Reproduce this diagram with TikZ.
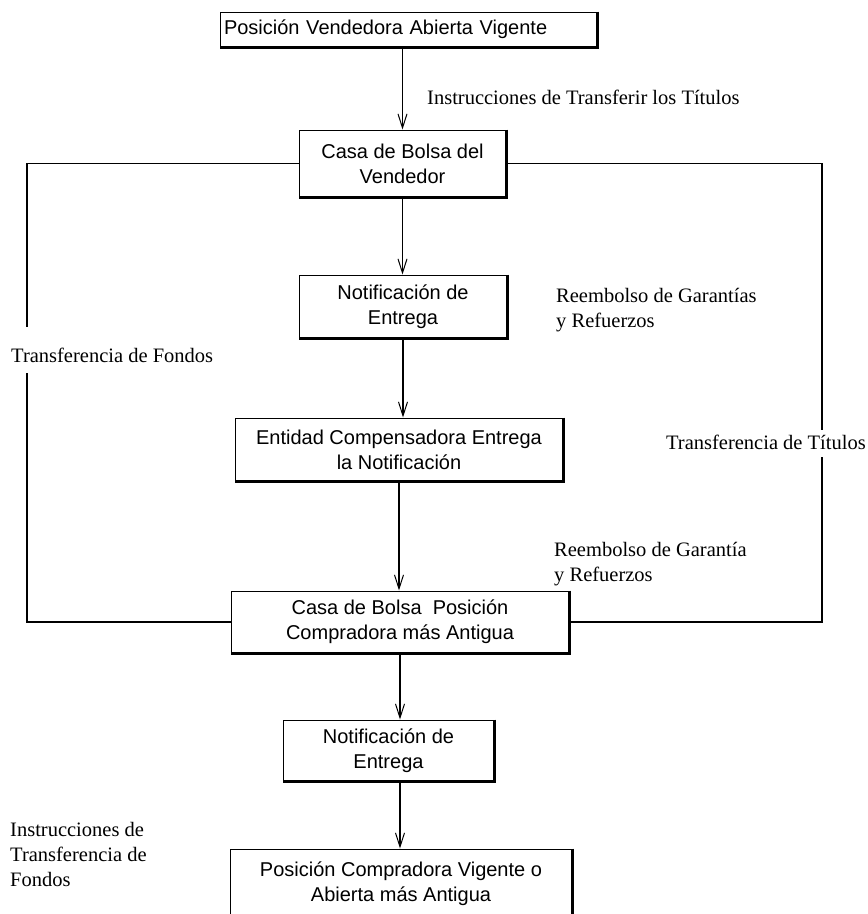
\documentclass[tikz,border=0pt]{standalone}
\usepackage{fontspec}
\setmainfont{Liberation Serif}
\setsansfont{Liberation Sans}
\usetikzlibrary{arrows.meta}
\tikzset{
  caja/.style={draw, line width=1pt, inner sep=0pt, align=center, font=\sffamily\fontsize{20}{25}\selectfont},
  etiq/.style={inner sep=0pt, align=left, font=\fontsize{20.5}{25}\selectfont},
  flecha/.style={line width=1.2pt, -{Straight Barb[length=14pt,width=9pt,line width=1pt]}},
  linea/.style={line width=1.2pt},
}
\begin{document}
\begin{tikzpicture}[x=1pt,y=-1pt]
        \useasboundingbox (0,0) rectangle (868,914);
        \clip (0,0) rectangle (868,914);

        % cajas
        \node[caja, minimum width=377pt, minimum height=35pt, text width=369pt, align=left] (vend) at (408.5,29.5) {Posición Vendedora Abierta Vigente};
        \node[caja, minimum width=207pt, minimum height=67pt] (casa) at (402.5,163.5) {Casa de Bolsa del\\Vendedor};
        \node[caja, minimum width=208pt, minimum height=63pt] (notif1) at (403,306.5) {Notificación de\\Entrega};
        \node[caja, minimum width=328pt, minimum height=63pt] (ent) at (399,449.5) {Entidad Compensadora Entrega\\la Notificación};
        \node[caja, minimum width=338pt, minimum height=62pt] (casacomp) at (400,622) {Casa de Bolsa\ \ Posición\\Compradora más Antigua};
        \node[caja, minimum width=211pt, minimum height=61pt] (notif2) at (388.5,750.5) {Notificación de\\Entrega};
        \node[caja, minimum width=342pt, minimum height=70pt] (compvig) at (401,884) {Posición Compradora Vigente o\\Abierta más Antigua};

        \foreach \n in {vend,casa,notif1,ent,casacomp,notif2,compvig}
            \draw[line width=2.5pt] (\n.north east) -- (\n.south east) -- (\n.south west);

        % flechas
        \draw[flecha] (vend.south -| casa.north) -- (casa.north);
        \draw[flecha] (casa.south) -- (casa.south |- notif1.north);
        \draw[flecha] (notif1.south) -- (notif1.south |- ent.north);
        \draw[flecha] (ent.south) -- (ent.south |- casacomp.north);
        \draw[flecha] (casacomp.south) -- (casacomp.south |- notif2.north);
        \draw[flecha] (casacomp.south |- notif2.south) -- (casacomp.south |- compvig.north);

        % lineas laterales
        \coordinate (fa) at (27,327);
        \coordinate (fb) at (27,373);
        \coordinate (ta) at (822,430);
        \coordinate (tb) at (822,457);
        \draw[linea] (casa.west) -| (fa);
        \draw[linea] (fb) |- (casacomp.west);
        \draw[linea] (casa.east) -| (ta);
        \draw[linea] (tb) |- (casacomp.east);

        % etiquetas
        \node[etiq, anchor=west] (instr) at (427,97) {Instrucciones de Transferir los Títulos};
        \node[etiq, anchor=west] (reemb1) at (556,310.5) {Reembolso de Garantías\\y Refuerzos};
        \node[etiq, anchor=west] (fondos) at (11,355) {Transferencia de Fondos};
        \node[etiq, anchor=east] (titulos) at (866,442) {Transferencia de Títulos};
        \node[etiq, anchor=west] (reemb2) at (554,564) {Reembolso de Garantía\\y Refuerzos};
        \node[etiq, anchor=west] (instr2) at (10,854) {Instrucciones de\\Transferencia de\\Fondos};
\end{tikzpicture}
\end{document}
